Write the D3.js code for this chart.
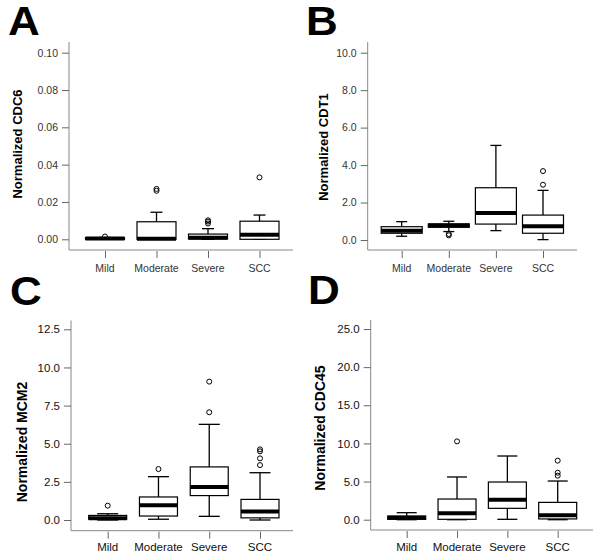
<!DOCTYPE html>
<html><head><meta charset="utf-8">
<script src="https://cdn.jsdelivr.net/npm/d3@7"></script>
<style>body{margin:0;background:#fff}svg{display:block}</style>
</head><body>
<svg id="c" width="600" height="560"></svg>
<script>
const categories = ["Mild", "Moderate", "Severe", "SCC"];

// box stats: [low whisker, q1, median, q3, high whisker]
const cdc6Boxes = [
  [0.0, 0.0, 0.0004, 0.0009, 0.001],
  [0.0, 0.0, 0.0003, 0.0094, 0.0145],
  [0.0, 0.0002, 0.0008, 0.0028, 0.0057],
  [0.0, 0.0, 0.0024, 0.0097, 0.013]
];
const cdc6Outliers = [[0.0015], [0.026, 0.027], [0.0085, 0.0095, 0.0102], [0.0332]];
const cdc6Ticks = [0, 0.02, 0.04, 0.06, 0.08, 0.10];

const cdt1Boxes = [
  [0.2, 0.36, 0.5, 0.71, 0.98],
  [0.45, 0.68, 0.78, 0.86, 1.0],
  [0.5, 0.85, 1.44, 2.79, 5.05],
  [0.02, 0.36, 0.73, 1.33, 2.65]
];
const cdt1Outliers = [[], [0.25, 0.32], [], [2.95, 3.68]];
const cdt1Ticks = [0, 2, 4, 6, 8, 10];

const mcm2Boxes = [
  [0.0, 0.05, 0.12, 0.3, 0.41],
  [0.05, 0.26, 0.96, 1.51, 2.84],
  [0.24, 1.6, 2.16, 3.48, 6.27],
  [0.0, 0.14, 0.55, 1.35, 3.1]
];
const mcm2Outliers = [[0.94], [3.34], [7.06, 9.07], [3.6, 4.04, 4.5, 4.63]];
const mcm2Ticks = [0, 2.5, 5, 7.5, 10, 12.5];

const cdc45Boxes = [
  [0.0, 0.05, 0.25, 0.48, 0.92],
  [0.0, 0.05, 0.83, 2.71, 5.6],
  [0.05, 1.49, 2.62, 4.94, 8.35],
  [0.0, 0.1, 0.57, 2.27, 5.07]
];
const cdc45Outliers = [[], [10.27], [], [5.77, 6.16, 7.74]];
const cdc45Ticks = [0, 5, 10, 15, 20, 25];

const panels = [
  {letter: "A", title: "Normalized CDC6", boxes: cdc6Boxes, outliers: cdc6Outliers, ticks: cdc6Ticks, fmt: ".2f",
   lx: 8, ly: 35, ax: 69, y0: 239.3, y1: 52.7, top: 42, base: 250, right: 293, c0: 105, c1: 259.5, bw: 39, cap: 12,
   tx: 17, ty: 144, fs: 10.5, tfs: 13, tc: "#333", catY: 272},
  {letter: "B", title: "Normalized CDT1", boxes: cdt1Boxes, outliers: cdt1Outliers, ticks: cdt1Ticks, fmt: ".1f",
   lx: 306, ly: 35, ax: 367.7, y0: 240, y1: 52.7, top: 42, base: 250, right: 577, c0: 401.7, c1: 543, bw: 41, cap: 11,
   tx: 323, ty: 147, fs: 10.5, tfs: 13, tc: "#333", catY: 272},
  {letter: "C", title: "Normalized MCM2", boxes: mcm2Boxes, outliers: mcm2Outliers, ticks: mcm2Ticks, fmt: ".1f",
   lx: 10, ly: 305, ax: 71, y0: 520, y1: 329.3, top: 320.5, base: 530.7, right: 293, c0: 107.7, c1: 260, bw: 38, cap: 21,
   tx: 22, ty: 442, fs: 11.5, tfs: 14, tc: "#111", catY: 551},
  {letter: "D", title: "Normalized CDC45", boxes: cdc45Boxes, outliers: cdc45Outliers, ticks: cdc45Ticks, fmt: ".1f",
   lx: 308, ly: 304, ax: 370.7, y0: 519.7, y1: 329, top: 320, base: 530, right: 593, c0: 406.7, c1: 557.7, bw: 38, cap: 20,
   tx: 320, ty: 428, fs: 11.5, tfs: 14, tc: "#111", catY: 551}
];

const svg = d3.select("#c");
const font = "Arial, 'Liberation Sans', sans-serif";

panels.forEach(p => {
  const g = svg.append("g");
  const maxT = p.ticks[p.ticks.length - 1];
  const y = d3.scaleLinear().domain([0, maxT]).range([p.y0, p.y1]);
  const x = d3.scalePoint().domain(categories).range([p.c0, p.c1]);

  // panel letter
  g.append("text").attr("transform", `translate(${p.lx},${p.ly}) scale(1.1,1)`).text(p.letter)
    .attr("font-family", font).attr("font-weight", "bold").attr("font-size", 40).attr("fill", "#000");

  // axis lines
  g.append("line").attr("x1", p.ax).attr("x2", p.ax).attr("y1", p.top).attr("y2", p.base)
    .attr("stroke", "#888").attr("stroke-width", 1);
  g.append("line").attr("x1", p.ax).attr("x2", p.right).attr("y1", p.base).attr("y2", p.base)
    .attr("stroke", "#888").attr("stroke-width", 1);

  // y axis
  const ya = g.append("g").attr("transform", `translate(${p.ax},0)`)
    .call(d3.axisLeft(y).tickValues(p.ticks).tickFormat(d3.format(p.fmt)).tickSize(7).tickPadding(4));
  ya.select(".domain").remove();
  ya.selectAll(".tick line").attr("stroke", "#666");
  ya.selectAll(".tick text").attr("font-family", font).attr("font-size", p.fs).attr("fill", p.tc);

  // x axis
  const xa = g.append("g").attr("transform", `translate(0,${p.base})`)
    .call(d3.axisBottom(x).tickSize(8).tickPadding(6));
  xa.select(".domain").remove();
  xa.selectAll(".tick line").attr("stroke", "#666").attr("y1", 1);
  xa.selectAll(".tick text").remove();
  categories.forEach(c => {
    g.append("text").attr("x", x(c)).attr("y", p.catY).attr("text-anchor", "middle")
      .attr("font-family", font).attr("font-size", p.fs).attr("fill", p.tc).text(c);
  });

  // y title
  g.append("text").attr("transform", `translate(${p.tx},${p.ty}) rotate(-90)`)
    .attr("text-anchor", "middle").attr("dominant-baseline", "central")
    .attr("font-family", font).attr("font-weight", "bold").attr("font-size", p.tfs).attr("fill", "#000")
    .text(p.title);

  // boxes
  p.boxes.forEach((b, i) => {
    const cx = x(categories[i]);
    const [lo, q1, med, q3, hi] = b;
    const bg = g.append("g");
    bg.append("line").attr("x1", cx).attr("x2", cx).attr("y1", y(q3)).attr("y2", y(hi)).attr("stroke", "#000").attr("stroke-width", 1.3);
    bg.append("line").attr("x1", cx).attr("x2", cx).attr("y1", y(q1)).attr("y2", y(lo)).attr("stroke", "#000").attr("stroke-width", 1.3);
    bg.append("line").attr("x1", cx - p.cap / 2).attr("x2", cx + p.cap / 2).attr("y1", y(hi)).attr("y2", y(hi)).attr("stroke", "#000").attr("stroke-width", 1.3);
    bg.append("line").attr("x1", cx - p.cap / 2).attr("x2", cx + p.cap / 2).attr("y1", y(lo)).attr("y2", y(lo)).attr("stroke", "#000").attr("stroke-width", 1.3);
    bg.append("rect").attr("x", cx - p.bw / 2).attr("width", p.bw)
      .attr("y", y(q3)).attr("height", Math.max(0.5, y(q1) - y(q3)))
      .attr("fill", "#fff").attr("stroke", "#000").attr("stroke-width", 1.2);
    bg.append("line").attr("x1", cx - p.bw / 2).attr("x2", cx + p.bw / 2).attr("y1", y(med)).attr("y2", y(med))
      .attr("stroke", "#000").attr("stroke-width", 4);
    p.outliers[i].forEach(v => {
      bg.append("circle").attr("cx", cx).attr("cy", y(v)).attr("r", 2.5)
        .attr("fill", "none").attr("stroke", "#000").attr("stroke-width", 1);
    });
  });
});
</script>
</body></html>
